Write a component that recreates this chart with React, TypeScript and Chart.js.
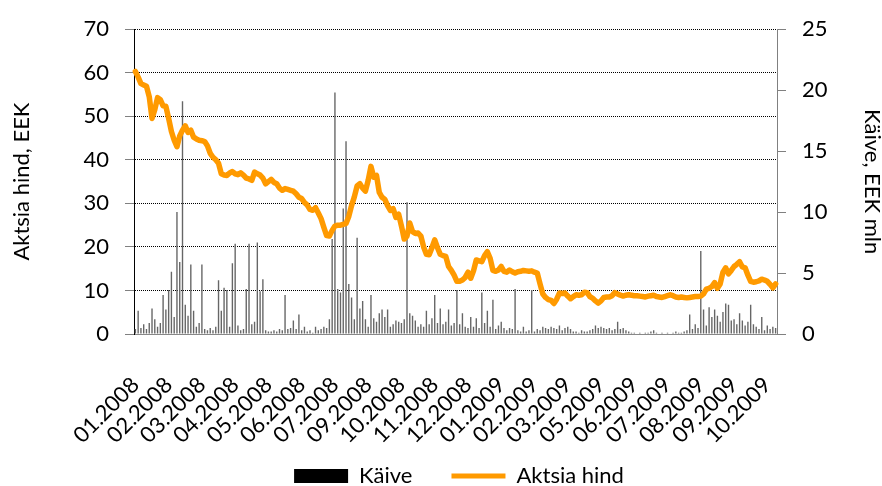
import React, { useEffect, useRef } from 'react';
import { Chart, registerables } from 'chart.js';

Chart.register(...registerables);

const tickLabels = [
  '01.2008', '02.2008', '03.2008', '04.2008', '05.2008', '06.2008', '07.2008',
  '09.2008', '10.2008', '11.2008', '12.2008', '01.2009', '02.2009', '03.2009',
  '05.2009', '06.2009', '07.2009', '08.2009', '09.2009', '10.2009',
];
const LABEL_EVERY = 12;

// Aktsia hind, EEK
const price = [
  60.3, 59.0, 57.5, 57.2, 56.9, 54.5, 49.5, 51.5, 54.3, 53.8,
  52.4, 52.3, 49.5, 46.5, 44.5, 43.0, 45.5, 46.8, 47.8, 46.3,
  46.8, 45.2, 44.8, 44.5, 44.4, 44.2, 43.2, 41.5, 40.6, 40.0,
  39.2, 36.8, 36.5, 36.4, 37.0, 37.3, 36.8, 36.6, 37.0, 36.5,
  35.8, 35.6, 35.3, 37.2, 36.8, 36.5, 35.8, 34.5, 35.0, 35.5,
  34.8, 34.5, 33.5, 33.0, 33.4, 33.2, 33.0, 32.8, 32.2, 31.4,
  31.1, 30.2, 29.6, 28.6, 28.4, 29.0, 27.8, 26.5, 24.5, 22.6,
  22.5, 23.8, 24.8, 25.0, 25.0, 25.2, 25.4, 27.0, 29.5, 31.5,
  34.0, 34.5, 33.5, 32.8, 35.3, 38.5, 36.0, 36.4, 32.5, 31.4,
  30.9, 29.5, 28.4, 28.8, 26.8, 27.5, 24.8, 21.8, 22.5, 25.5,
  23.5, 23.1, 23.2, 22.5, 20.0, 18.3, 18.2, 19.8, 21.6, 19.8,
  18.3, 18.0, 17.8, 15.5, 14.6, 13.5, 12.1, 12.1, 12.4, 13.0,
  14.2, 12.8, 14.5, 17.0, 16.8, 16.6, 18.0, 18.9, 17.4, 14.6,
  14.4, 14.7, 15.5, 14.4, 14.2, 14.7, 14.3, 14.0, 14.3, 14.4,
  14.6, 14.5, 14.4, 14.5, 14.2, 14.0, 11.5, 9.2, 8.4, 7.9,
  7.7, 7.0, 8.0, 9.4, 9.3, 9.4, 8.7, 8.1, 8.6, 9.0,
  8.9, 9.0, 9.6, 9.5, 8.6, 8.2, 7.6, 7.1, 7.6, 8.4,
  8.5, 8.5, 8.8, 9.5, 9.2, 8.9, 8.7, 8.9, 9.0, 8.9,
  8.8, 8.8, 8.7, 8.6, 8.5, 8.7, 8.8, 8.9, 8.6, 8.5,
  8.4, 8.6, 8.8, 9.0, 8.8, 8.5, 8.4, 8.5, 8.4, 8.3,
  8.4, 8.5, 8.6, 8.6, 8.7, 9.2, 10.3, 10.5, 10.9, 11.8,
  10.5, 11.5, 14.2, 15.2, 13.8, 14.6, 15.5, 16.0, 16.6, 15.4,
  15.2, 13.5, 12.1, 11.9, 12.0, 12.2, 12.6, 12.4, 12.1, 11.4,
  10.6, 11.5,
];

// Käive, EEK mln
const volume = [
  0.4, 1.9, 0.5, 0.8, 0.4, 0.9, 2.1, 1.2, 0.6, 0.9,
  3.2, 2.0, 3.6, 5.1, 1.4, 10.0, 5.9, 19.1, 2.4, 1.5,
  5.7, 1.9, 0.6, 0.9, 5.7, 0.4, 0.3, 0.5, 0.3, 0.6,
  4.4, 1.9, 3.8, 3.6, 0.6, 5.8, 7.4, 0.7, 0.3, 0.4,
  3.7, 7.4, 0.8, 1.0, 7.5, 3.5, 4.5, 0.3, 0.2, 0.2,
  0.3, 0.2, 0.4, 0.3, 3.2, 0.4, 0.5, 1.1, 0.4, 1.6,
  0.3, 0.6, 0.2, 0.3, 0.1, 0.6, 0.3, 0.4, 0.6, 0.5,
  1.2, 7.8, 19.8, 3.7, 3.4, 10.3, 15.8, 4.1, 3.0, 1.2,
  7.9, 2.1, 2.7, 1.2, 0.6, 3.2, 1.3, 1.0, 1.7, 2.0,
  1.4, 2.0, 0.6, 0.8, 1.1, 1.0, 0.9, 1.2, 10.8, 1.7,
  1.5, 1.1, 0.6, 0.8, 0.6, 1.9, 0.8, 1.3, 3.2, 0.9,
  2.1, 0.8, 1.0, 2.0, 0.7, 0.9, 3.6, 0.8, 1.7, 0.6,
  0.5, 1.4, 0.6, 1.3, 0.5, 3.4, 0.9, 1.9, 0.6, 2.8,
  0.4, 0.7, 1.0, 0.5, 0.3, 0.5, 0.4, 3.7, 0.3, 0.2,
  0.6, 0.2, 0.3, 3.6, 0.2, 0.4, 0.3, 0.6, 0.5, 0.4,
  0.6, 0.5, 0.4, 0.7, 0.3, 0.5, 0.6, 0.4, 0.2, 0.2,
  0.1, 0.3, 0.2, 0.2, 0.3, 0.4, 0.7, 0.5, 0.6, 0.5,
  0.4, 0.5, 0.3, 0.4, 1.0, 0.4, 0.5, 0.3, 0.2, 0.1,
  0.1, 0.0, 0.1, 0.0, 0.1, 0.1, 0.2, 0.3, 0.1, 0.0,
  0.1, 0.0, 0.1, 0.0, 0.1, 0.2, 0.1, 0.1, 0.2, 0.3,
  1.6, 0.4, 0.8, 0.5, 6.8, 2.0, 0.7, 2.2, 1.4, 2.0,
  1.5, 1.0, 1.8, 2.5, 2.4, 1.1, 1.2, 0.8, 1.7, 1.1,
  0.7, 1.0, 2.4, 0.8, 0.6, 0.4, 1.4, 0.3, 0.7, 0.4,
  0.6, 0.5,
];

const categories = price.map((_, i) =>
  i % LABEL_EVERY === 0 ? tickLabels[i / LABEL_EVERY] ?? '' : ''
);

const ORANGE = '#FF9A00';
const FONT = 'Lato';

export default function App() {
  const ref = useRef<HTMLCanvasElement | null>(null);

  useEffect(() => {
    if (!ref.current) return;
    const chart = new Chart(ref.current, {
      type: 'bar',
      data: {
        labels: categories,
        datasets: [
          {
            type: 'bar',
            label: 'Käive',
            data: volume,
            yAxisID: 'y1',
            backgroundColor: '#666666',
            barPercentage: 0.5,
            categoryPercentage: 1,
            order: 2,
          },
          {
            type: 'line',
            label: 'Aktsia hind',
            data: price,
            yAxisID: 'y',
            borderColor: ORANGE,
            backgroundColor: ORANGE,
            borderWidth: 5.5,
            pointRadius: 0,
            borderJoinStyle: 'round',
            borderCapStyle: 'round',
            tension: 0,
            order: 1,
          } as any,
        ],
      },
      options: {
        responsive: false,
        animation: false,
        layout: { padding: { top: 23, left: 0, right: -36, bottom: -11 } },
        plugins: {
          tooltip: { enabled: false },
          legend: {
            position: 'bottom',
            labels: {
              color: '#000',
              font: { family: FONT, size: 22 },
              usePointStyle: true,
              pointStyleWidth: 54,
              boxHeight: 14,
              padding: 39,
              generateLabels: () => [
                {
                  text: 'Käive',
                  fillStyle: '#000',
                  strokeStyle: '#000',
                  lineWidth: 0,
                  pointStyle: 'rect',
                  hidden: false,
                  datasetIndex: 0,
                  fontColor: '#000',
                } as any,
                {
                  text: 'Aktsia hind',
                  fillStyle: ORANGE,
                  strokeStyle: ORANGE,
                  lineWidth: 5,
                  pointStyle: 'line',
                  hidden: false,
                  datasetIndex: 1,
                  fontColor: '#000',
                } as any,
              ],
            },
          },
        },
        scales: {
          x: {
            type: 'category',
            offset: true,
            grid: { display: false, drawTicks: false },
            border: { display: true, color: '#888', width: 1 },
            ticks: {
              autoSkip: false,
              minRotation: 45,
              maxRotation: 45,
              color: '#000',
              padding: 38,
              font: { family: FONT, size: 22 },
            },
            afterFit: (s: any) => {
              s.height = 92;
              s._computeLabelArea = () => undefined;
            },
          },
          y: {
            position: 'left',
            min: 0,
            max: 70,
            ticks: {
              stepSize: 10,
              color: '#000',
              padding: 16,
              font: { family: FONT, size: 22 },
            },
            grid: {
              color: '#000',
              lineWidth: 1,
              tickLength: 9,
              tickColor: '#808080',
              tickBorderDash: [],
              drawOnChartArea: true,
            },
            border: { display: true, color: '#000', width: 1, dash: [1, 1] },
            title: {
              display: true,
              text: 'Aktsia hind, EEK',
              color: '#000',
              font: { family: FONT, size: 22, lineHeight: 1 },
              padding: { top: 11, bottom: 0 },
            },
            afterFit: (s: any) => {
              s.width = 134;
            },
          },
          y1: {
            position: 'right',
            min: 0,
            max: 25,
            ticks: {
              stepSize: 5,
              color: '#000',
              padding: 16,
              font: { family: FONT, size: 22 },
            },
            grid: {
              drawOnChartArea: false,
              tickLength: 9,
              tickColor: '#808080',
              color: '#808080',
            },
            border: { display: true, color: '#808080', width: 1 },
            title: {
              display: true,
              text: 'Käive, EEK mln',
              color: '#000',
              font: { family: FONT, size: 22, lineHeight: 1 },
              padding: { top: 35, bottom: 0 },
            },
            afterFit: (s: any) => {
              s.width = 141;
            },
          },
        },
      } as any,
    });
    return () => chart.destroy();
  }, []);

  return (
    <div style={{ position: 'fixed', left: 0, top: 0, width: 882, height: 486, background: '#fff' }}>
      <canvas ref={ref} width={882} height={486} style={{ display: 'block' }} />
    </div>
  );
}
